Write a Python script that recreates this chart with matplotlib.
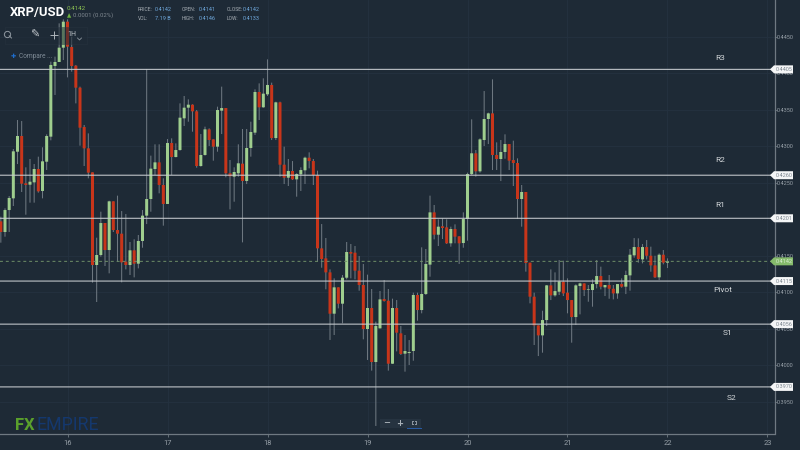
import numpy as np
import matplotlib
matplotlib.use("Agg")
import matplotlib.pyplot as plt
from matplotlib.patches import Polygon, Rectangle
from matplotlib.lines import Line2D
from matplotlib.transforms import blended_transform_factory

# Prices in units of 0.0001, one hourly candle each, first candle 16 hours before day 16
first_hour = -16
direction = ("RGGGGRRGGRGGGGGG"
             "RRRRRRRGGRGRRRRGRGGGGGRRGRGGGGRRGGRRGGRRGGRGGGRGGRGRRGRGGGRR"
             "RRRRGRGGRRRRGRGGRRGRR"
             "GGGRGGGRGRRGRRGGGRGGGRRGGRRRGRRRRGGRGGRRRGGRGGGRGRRGRGGGRGRRRGRG")
body_top = [4196.8,4212.3,4228.8,4292.7,4313.7,4313.7,4248.9,4251.1,4268.5,4268.5,4279.0,4313.7,4411.0,4415.1,4434.7,4470.3,
            4470.3,4435.6,4410.0,4379.9,4326.0,4296.8,4263.9,4150.7,4194.5,4194.5,4224.2,4224.2,4184.9,4179.9,4141.6,4157.1,4157.1,4169.9,4204.6,4227.4,
            4269.0,4277.6,4277.6,4246.6,4304.1,4304.1,4294.5,4338.8,4352.5,4356.6,4356.6,4347.5,4287.7,4322.8,4322.8,4309.1,4349.3,4352.0,4352.0,4262.6,
            4264.4,4276.3,4275.8,4297.3,4319.2,4374.0,4374.0,4371.7,4383.6,4383.6,4359.8,4359.8,4274.4,4265.8,4265.8,4261.6,4267.1,4284.0,4284.0,4279.4,
            4260.3,4159.8,4146.1,4126.9,4106.4,4106.4,4119.6,4154.8,4154.8,4153.9,4129.2,4109.6,4078.1,4078.1,4053.4,4089.9,4090.4,4088.1,4078.1,4078.1,
            4043.4,4019.2,4017.8,4095.9,4095.9,4097.3,4138.4,4209.1,4209.1,4189.5,4190.0,4188.6,4186.3,4186.3,4176.3,4200.0,4261.6,4290.0,4290.0,4309.1,
            4337.0,4344.7,4344.7,4287.7,4291.8,4302.7,4302.7,4280.8,4276.7,4237.0,4237.0,4140.2,4093.6,4054.3,4061.6,4109.1,4109.1,4101.3,4114.6,4114.1,
            4099.1,4089.0,4109.1,4111.8,4111.8,4104.1,4110.9,4121.9,4121.9,4109.6,4109.6,4104.5,4110.9,4110.9,4123.3,4151.1,4161.6,4161.6,4161.6,4161.6,
            4149.7,4136.5,4151.1,4151.1,4142.0]
body_bottom = [4182.2,4182.2,4212.3,4228.3,4292.2,4248.4,4246.6,4247.0,4250.2,4237.9,4238.4,4278.5,4312.8,4409.6,4415.1,4434.7,
            4436.1,4409.6,4379.9,4325.1,4296.8,4263.5,4137.0,4137.0,4150.7,4157.5,4157.5,4184.9,4179.9,4140.6,4137.0,4137.0,4138.8,4138.8,4169.9,4204.6,
            4227.4,4268.5,4246.6,4220.6,4220.6,4284.9,4284.9,4294.5,4337.9,4352.5,4347.5,4272.6,4272.6,4287.7,4308.2,4299.1,4299.1,4348.4,4262.6,4258.5,
            4258.0,4262.6,4252.1,4252.1,4297.3,4318.3,4353.0,4353.0,4370.8,4310.9,4310.9,4274.4,4256.6,4256.6,4254.3,4254.3,4261.2,4266.7,4279.4,4260.3,
            4159.8,4145.2,4126.9,4070.3,4070.3,4084.0,4084.0,4119.6,4152.5,4129.2,4109.6,4049.3,4049.3,4004.1,4004.1,4050.2,4087.7,4001.8,4001.8,4044.3,
            4015.1,4015.5,4016.4,4019.2,4075.3,4075.3,4097.3,4137.5,4178.5,4178.5,4187.7,4166.7,4166.7,4175.8,4166.7,4167.1,4200.0,4261.6,4265.3,4265.3,
            4308.2,4337.0,4287.7,4282.2,4282.2,4291.8,4279.9,4276.7,4227.4,4227.4,4139.7,4093.6,4054.3,4040.6,4040.6,4061.6,4095.4,4095.4,4100.4,4098.1,
            4089.0,4065.7,4065.7,4108.2,4102.7,4103.2,4102.7,4110.9,4107.3,4106.4,4104.5,4098.1,4098.1,4107.3,4107.3,4122.8,4150.2,4145.2,4144.7,4149.7,
            4136.5,4120.1,4120.1,4140.2,4140.2]
highs = [4203.2,4214.6,4231.5,4295.9,4335.6,4334.2,4270.8,4282.2,4275.3,4285.4,4298.2,4316.0,4415.5,4422.4,4468.0,4473.5,
            4473.5,4449.8,4411.0,4381.3,4328.8,4317.3,4263.9,4174.4,4210.0,4194.5,4225.1,4224.2,4232.0,4210.9,4206.8,4168.5,4172.2,4178.1,4212.3,4405.5,
            4286.8,4302.3,4302.3,4255.7,4309.6,4310.5,4303.6,4358.4,4368.5,4363.9,4357.1,4349.3,4316.4,4326.5,4324.2,4309.1,4353.9,4381.3,4352.0,4280.8,
            4270.8,4302.3,4323.3,4323.3,4333.3,4377.6,4385.8,4392.7,4418.7,4386.8,4360.7,4360.7,4299.1,4282.2,4279.4,4262.6,4270.8,4285.4,4291.3,4282.2,
            4266.2,4193.1,4174.0,4131.0,4118.7,4106.4,4123.3,4168.5,4165.8,4163.0,4149.3,4138.4,4123.8,4104.1,4059.4,4101.4,4116.4,4104.1,4090.9,4089.0,
            4053.4,4041.1,4034.2,4099.1,4099.1,4161.2,4158.9,4232.0,4219.2,4199.6,4200.9,4199.6,4189.5,4192.7,4176.3,4209.1,4263.5,4336.5,4294.5,4310.5,
            4375.3,4345.7,4391.3,4305.0,4308.2,4316.0,4302.7,4307.3,4283.1,4246.6,4237.0,4140.2,4099.1,4054.3,4074.4,4109.6,4131.0,4126.9,4143.8,4142.9,
            4118.7,4089.0,4110.5,4112.8,4111.8,4109.6,4117.3,4143.8,4134.7,4109.6,4123.3,4109.6,4110.9,4118.7,4129.2,4158.9,4173.9,4173.5,4165.7,4171.2,
            4162.1,4149.7,4152.9,4157.5,4146.1]
lows = [4167.6,4175.8,4182.2,4217.8,4275.3,4237.0,4205.9,4222.4,4222.4,4236.1,4228.3,4267.1,4307.8,4369.9,4415.5,4417.8,
            4394.0,4401.8,4358.4,4300.5,4272.6,4255.7,4112.8,4086.3,4148.4,4135.6,4125.6,4182.2,4141.6,4113.2,4131.0,4123.3,4120.1,4132.4,4160.7,4193.1,
            4210.0,4260.3,4235.2,4190.9,4220.6,4260.3,4284.5,4293.6,4327.4,4333.3,4319.6,4270.3,4271.7,4286.8,4300.0,4279.9,4292.2,4316.4,4257.1,4213.2,
            4223.7,4258.0,4168.0,4247.9,4285.4,4315.1,4335.6,4352.5,4368.5,4308.2,4308.2,4258.0,4247.9,4245.2,4253.4,4230.6,4238.4,4247.9,4269.4,4246.6,
            4141.6,4133.3,4103.7,4034.3,4041.1,4077.6,4057.1,4117.4,4118.7,4117.4,4101.8,4035.2,4006.9,3992.3,3916.5,4050.2,4086.8,3992.3,4001.4,4018.7,
            4013.7,3990.9,4000.0,4005.9,4060.7,4070.8,4095.9,4121.0,4172.1,4163.0,4172.6,4165.8,4162.1,4166.7,4138.4,4160.7,4170.3,4260.3,4258.0,4263.5,
            4300.0,4302.7,4267.1,4267.1,4252.0,4282.6,4267.1,4245.2,4200.0,4189.5,4127.9,4084.5,4027.4,4012.3,4016.9,4053.4,4089.0,4093.6,4095.9,4094.5,
            4070.8,4030.6,4054.8,4069.4,4094.5,4086.7,4079.9,4105.0,4103.6,4094.5,4090.8,4089.9,4090.8,4105.9,4097.2,4101.8,4147.0,4140.2,4139.2,4144.7,
            4127.8,4119.2,4116.4,4137.9,4132.8]
level_names = ["R3", "R2", "R1", "Pivot", "S1", "S2"]
level_values = [0.4405, 0.4260, 0.4201, 0.4115, 0.4056, 0.3970]
last_price = 0.4142
y_ticks = [0.3950, 0.4000, 0.4050, 0.4100, 0.4150, 0.4250, 0.4300, 0.4350, 0.4400, 0.4450]
x_ticks = [16, 17, 18, 19, 20, 21, 22, 23]

BG = "#1e2a36"; GRID = "#243240"; AXIS = "#6f7982"; TXT = "#98a1a9"
GREEN = "#9fce8e"; RED = "#c8351a"; WICK = "#6d7780"; LINE = "#c9cdd1"
W, H = 800, 450
plt.rcParams["font.family"] = ["Roboto", "DejaVu Sans"]
fig = plt.figure(figsize=(8, 4.5), dpi=100, facecolor=BG)
ax = fig.add_axes([0, 1 - 434 / H, 774.5 / W, 434 / H], facecolor=BG)
ax.set_xlim(15.325, 23.07)
ax.set_ylim(0.39055, 0.4500)

def fx(p):
    return p / W
def fy(p):
    return 1 - p / H

n = len(body_top)
x = 16 + (np.arange(n) + first_hour) / 24
top = np.array(body_top) / 1e4
bot = np.array(body_bottom) / 1e4
hi = np.array(highs) / 1e4
lo = np.array(lows) / 1e4
up = np.array([c == "G" for c in direction])

ax.set_xticks(x_ticks)
ax.set_yticks(y_ticks)
ax.grid(True, color=GRID, lw=0.6)
ax.set_axisbelow(True)
for s in ["top", "left"]:
    ax.spines[s].set_visible(False)
for s in ["right", "bottom"]:
    ax.spines[s].set_color(AXIS)
    ax.spines[s].set_linewidth(0.9)
ax.yaxis.tick_right()
ax.set_yticklabels([f"{v:.4f}" for v in y_ticks])
ax.tick_params(axis="y", colors=TXT, labelsize=4, length=1.5, width=0.6, pad=0.3, color=AXIS)
ax.tick_params(axis="x", colors=TXT, labelsize=5.4, length=2, width=0.6, pad=2.5, color=AXIS)

w = ax.vlines(x, lo, hi, color=WICK, lw=0.75, zorder=2)
w.set_snap(False)
for mask, col in ((up, GREEN), (~up, RED)):
    bars = ax.bar(x[mask], (top - bot)[mask], bottom=bot[mask], width=0.03, color=col, lw=0, zorder=3)
    for b in bars:
        b.set_snap(False)

l = ax.axhline(last_price, color="#6f8f68", lw=0.7, dashes=(3, 3), zorder=4)
l.set_snap(False)
for v in level_values:
    l = ax.axhline(v, color=LINE, lw=0.75, zorder=5)
    l.set_snap(False)

# price tags on the right axis
tr = blended_transform_factory(fig.transFigure, ax.transData)
dy = 4.0 * (0.4500 - 0.39055) / 434
def tag(v, face, tc):
    fig.add_artist(Polygon([(fx(770), v), (fx(774), v + dy), (fx(793), v + dy), (fx(793), v - dy), (fx(774), v - dy)],
                           closed=True, transform=tr, facecolor=face, edgecolor="none", zorder=6))
    t = fig.text(fx(776), 0, f"{v:.4f}", color=tc, fontsize=4, va="center", ha="left", zorder=7, transform=tr)
    t.set_y(v)
for v in level_values:
    tag(v, "#f4f5f6", "#7d8790")
tag(last_price, "#86bb6c", "#d8ecd0")

# level names
name_x = [720, 720, 720, 723, 728, 732]
name_y = [58, 160, 205, 290, 333, 398]
for nm, px, py in zip(level_names, name_x, name_y):
    fig.text(fx(px), fy(py), nm, color="#d2d6d9", fontsize=6, ha="center", va="center")

# toolbar overlay
fig.add_artist(Rectangle((fx(5), fy(44)), fx(82), 17 / H, transform=fig.transFigure,
                         facecolor=BG, alpha=0.55, edgecolor="#2a3743", lw=0.5, zorder=6))
fig.text(fx(10), fy(12.5), "XRP/USD", color="white", fontsize=9.4, fontweight="bold",
         family=["Liberation Sans Narrow", "Roboto"], va="center", zorder=8)
fig.text(fx(67), fy(8.7), "0.4142", color="#8cc152", fontsize=4.5, va="center", zorder=8)
fig.text(fx(67), fy(15.5), "▲", color="#6db33f", fontsize=4, va="center", zorder=8)
fig.text(fx(73), fy(15.5), "0.0001 (0.02%)", color="#7f8890", fontsize=4.3, va="center", zorder=8)
head = [("PRICE:", 138, 9.5), ("VOL:", 138, 18.5), ("OPEN:", 182, 9.5), ("HIGH:", 182, 18.5), ("CLOSE:", 226.5, 9.5), ("LOW:", 226.5, 18.5)]
vals = [("0.4142", 155, 9.5), ("7.19 B", 155, 18.5), ("0.4141", 199, 9.5), ("0.4146", 199, 18.5), ("0.4142", 243, 9.5), ("0.4133", 243, 18.5)]
for s, px, py in head:
    fig.text(fx(px), fy(py), s, color="#a9b0b6", fontsize=3.6, va="center", zorder=8)
for s, px, py in vals:
    fig.text(fx(px), fy(py), s, color="#6fa8dc", fontsize=4, va="center", zorder=8)
fig.text(fx(67), fy(35), "1H", color="#b9bfc4", fontsize=5, va="center", zorder=8)
fig.text(fx(34.5), fy(35), "✎", color="#c5cacf", fontsize=8, ha="center", va="center", family=["DejaVu Sans"], zorder=8)
ICON = "#aeb5bb"
fig.add_artist(Line2D([fx(53.5)], [fy(35)], marker="+", ms=6, mew=0.7, color=ICON, transform=fig.transFigure, zorder=8))
fig.add_artist(Line2D([fx(7)], [fy(33.5)], marker="o", ms=4.5, mew=0.7, mfc="none", color="#8f98a0", transform=fig.transFigure, zorder=8))
fig.add_artist(Line2D([fx(9.2), fx(11.5)], [fy(35.8), fy(38)], lw=0.7, color="#8f98a0", transform=fig.transFigure, zorder=8))
fig.add_artist(Line2D([fx(77.5), fx(79.5), fx(81.5)], [fy(38), fy(40), fy(38)], lw=0.6, color="#8a939b", transform=fig.transFigure, zorder=8))
fig.text(fx(13), fy(56.5), "✚", color="#1f6fd0", fontsize=4.5, ha="center", va="center", family=["DejaVu Sans"], zorder=8)
fig.text(fx(19), fy(56.5), "Compare ...", color="#7f8b96", fontsize=4.7, va="center", zorder=8)

# logo
fig.text(fx(15), fy(425.5), "FX", color="#5aa02c", fontsize=12, fontweight="bold", va="center", zorder=8)
fig.text(fx(37), fy(425.5), "EMPIRE", color="#14386e", fontsize=12.8, va="center", zorder=8)

# zoom buttons
fig.add_artist(Rectangle((fx(380), fy(428)), fx(41), 9 / H, transform=fig.transFigure,
                         facecolor="#263340", edgecolor="none", zorder=6))
fig.add_artist(Line2D([fx(407), fx(421)], [fy(427.5), fy(427.5)], transform=fig.transFigure, color="#2a5da8", lw=0.7, zorder=7))
for s, px in zip(["−", "+"], [386.5, 400]):
    fig.text(fx(px), fy(423), s, color="#aab2b9", fontsize=6, fontweight="bold", ha="center", va="center",
             family=["DejaVu Sans"], zorder=8)
# expand icon: four small corners
for sx in (-1, 1):
    for sy in (-1, 1):
        cx, cy = 413.7 + sx * 2.2, 422.5 + sy * 1.7
        fig.add_artist(Line2D([fx(cx - sx), fx(cx), fx(cx)], [fy(cy), fy(cy), fy(cy - sy)], lw=0.6,
                              color="#aab2b9", transform=fig.transFigure, zorder=8))

fig.savefig("out.png", dpi=100, facecolor=BG)
